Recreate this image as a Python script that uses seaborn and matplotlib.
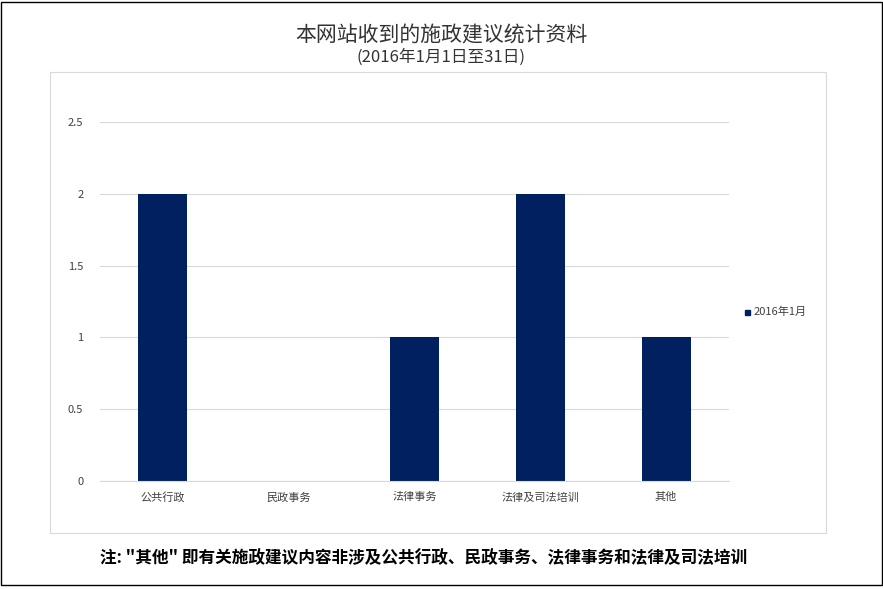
import matplotlib
matplotlib.use("Agg")
import matplotlib.pyplot as plt
import matplotlib.patches as mpatches
import pandas as pd
import seaborn as sns

plt.rcParams["font.family"] = ["Noto Sans CJK SC", "DejaVu Sans"]

categories = ["公共行政", "民政事务", "法律事务", "法律及司法培训", "其他"]
values = [2, 0, 1, 2, 1]
series_name = "2016年1月"
yticks = [0, 0.5, 1, 1.5, 2, 2.5]
ytick_labels = ["0", "0.5", "1", "1.5", "2", "2.5"]

bar_color = "#002060"
df = pd.DataFrame({"category": categories, "value": values})

fig = plt.figure(figsize=(8.83, 5.89), dpi=100)

# outer frame and chart area box
fig.patches.append(mpatches.Rectangle((0.001, 0.006), 0.998, 0.99, transform=fig.transFigure,
                                      fill=False, edgecolor="black", linewidth=1))
fig.patches.append(mpatches.Rectangle((50 / 883, 1 - 533 / 589), 776 / 883, 461 / 589,
                                      transform=fig.transFigure, fill=False,
                                      edgecolor="#d9d9d9", linewidth=0.8))

ax = fig.add_axes([100 / 883, 1 - 481 / 589, 629 / 883, 359 / 589])
sns.barplot(data=df, x="category", y="value", color=bar_color, width=0.39,
            saturation=1, ax=ax)
ax.set_ylim(0, 2.5)
ax.set_yticks(yticks)
ax.set_yticklabels(ytick_labels)
ax.set_xlabel("")
ax.set_ylabel("")
ax.grid(axis="y", color="#d9d9d9", linewidth=0.8)
ax.set_axisbelow(True)
for s in ["top", "right", "left"]:
    ax.spines[s].set_visible(False)
ax.spines["bottom"].set_color("#d9d9d9")
ax.tick_params(axis="both", length=0, labelsize=8, colors="#404040", pad=8)
ax.tick_params(axis="y", pad=12)

fig.text(0.5, 1 - 35 / 589, "本网站收到的施政建议统计资料", ha="center", va="center",
         fontsize=15, color="#333333")
fig.text(0.5, 1 - 57 / 589, "(2016年1月1日至31日)", ha="center", va="center",
         fontsize=12, color="#333333")

fig.patches.append(mpatches.Rectangle((745 / 883, 1 - 315 / 589), 5 / 883, 5 / 589,
                                      transform=fig.transFigure, color=bar_color))
fig.text(754 / 883, 1 - 312 / 589, series_name, ha="left", va="center",
         fontsize=8, color="#404040")

fig.text(0.48, 1 - 558 / 589, '注: "其他" 即有关施政建议内容非涉及公共行政、民政事务、法律事务和法律及司法培训',
         ha="center", va="center", fontsize=12, fontweight="bold", color="black")

fig.savefig("out.png", dpi=100)
